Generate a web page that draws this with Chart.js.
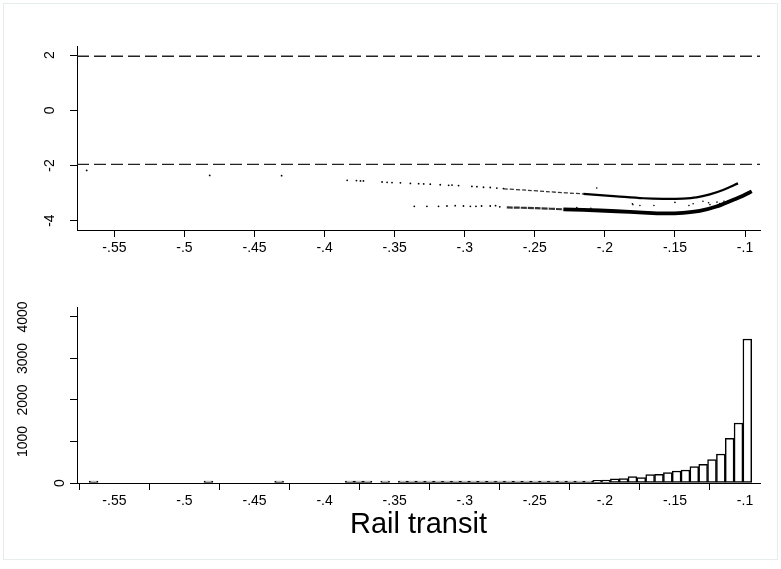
<!DOCTYPE html>
<html>
<head>
<meta charset="utf-8">
<script src="https://cdn.jsdelivr.net/npm/chart.js@4.4.1/dist/chart.umd.min.js"></script>
<style>
  html, body { margin: 0; padding: 0; background: #fff; }
  #wrap { position: relative; width: 781px; height: 569px; overflow: hidden; }
  #frame { position: absolute; left: 3px; top: 3px; width: 775px; height: 557px; border: 1px solid #e6ecec; box-sizing: border-box; }
  canvas { position: absolute; left: 0; }
  #scatterChart { top: 0; }
  #histChart { top: 290px; }
</style>
</head>
<body>
<div id="wrap">
  <div id="frame"></div>
  <canvas id="scatterChart" width="781" height="290"></canvas>
  <canvas id="histChart" width="781" height="279"></canvas>
</div>
<script>
// axis ticks
const xTicks = [-0.55, -0.5, -0.45, -0.4, -0.35, -0.3, -0.25, -0.2, -0.15, -0.1];
const xTickLabels = ['-.55', '-.5', '-.45', '-.4', '-.35', '-.3', '-.25', '-.2', '-.15', '-.1'];
const zTicks = [-4, -2, 0, 2];
const zTickLabels = ['-4', '-2', '0', '2'];
const freqTicks = [0, 1000, 2000, 3000, 4000];
const freqTickLabels = ['0', '1000', '2000', '3000', '4000'];
const xMin = -0.5767, xMax = -0.0893;
const zMin = -4.34, zMax = 2.33;
const freqMax = 4240;
const refLines = [-1.96, 1.96];

// top panel: the two bands of points (light start, dense end)
const upperLightX = [-0.272, -0.255, -0.2415, -0.2154];
const upperLightY = [-2.85, -2.90, -2.95, -3.03];
const upperDenseX = [-0.2154, -0.1916, -0.1726, -0.1584, -0.1442, -0.1346, -0.1251, -0.1157, -0.105];
const upperDenseY = [-3.03, -3.12, -3.19, -3.21, -3.20, -3.16, -3.05, -2.89, -2.65];
const lowerLightX = [-0.270, -0.2486, -0.2296];
const lowerLightY = [-3.52, -3.55, -3.59];
const lowerDenseX = [-0.2296, -0.2154, -0.1916, -0.1727, -0.1584, -0.1442, -0.1323, -0.1204, -0.1086, -0.1014, -0.0952];
const lowerDenseY = [-3.59, -3.61, -3.66, -3.71, -3.74, -3.72, -3.65, -3.49, -3.25, -3.10, -2.94];

// top panel: sparse points
const upperTailX = [-0.5698, -0.482, -0.4307, -0.3839, -0.3773, -0.3744, -0.3723, -0.359, -0.3554, -0.3519, -0.3459, -0.3388, -0.3329, -0.3293, -0.3246, -0.3175, -0.3115, -0.3091, -0.3044, -0.2949, -0.2913, -0.2866, -0.2818, -0.2771, -0.2724];
const upperTailY = [-2.18, -2.36, -2.37, -2.54, -2.55, -2.56, -2.56, -2.60, -2.61, -2.62, -2.63, -2.65, -2.66, -2.67, -2.68, -2.70, -2.72, -2.71, -2.73, -2.76, -2.77, -2.79, -2.80, -2.82, -2.84];
const lowerTailX = [-0.336, -0.327, -0.3187, -0.3127, -0.3068, -0.3009, -0.296, -0.292, -0.288, -0.2818, -0.278, -0.275];
const lowerTailY = [-3.48, -3.48, -3.48, -3.47, -3.46, -3.47, -3.48, -3.48, -3.47, -3.47, -3.46, -3.50];
const strayX = [-0.2058, -0.150, -0.137, -0.130, -0.126, -0.120, -0.115, -0.112, -0.180, -0.175, -0.165, -0.140, -0.125, -0.118, -0.210, -0.220, -0.1821, -0.1804];
const strayY = [-2.82, -3.34, -3.39, -3.30, -3.35, -3.33, -3.30, -3.28, -3.42, -3.45, -3.45, -3.45, -3.42, -3.38, -3.55, -3.53, -3.16, -3.39];

// bottom panel: histogram (non-empty bins)
const binCenters = [-0.56485, -0.48290, -0.43246, -0.38203, -0.37573, -0.36942, -0.35682,
  -0.34421, -0.33790, -0.33160, -0.32530, -0.31899, -0.31269, -0.30638, -0.30008, -0.29378,
  -0.28747, -0.28117, -0.27486, -0.26856, -0.26226, -0.25595, -0.24965, -0.24334, -0.23704,
  -0.23074, -0.22443, -0.21813, -0.21182, -0.20552, -0.19922, -0.19291, -0.18661, -0.18030,
  -0.17400, -0.16770, -0.16139, -0.15509, -0.14878, -0.14248, -0.13618, -0.12987, -0.12357,
  -0.11726, -0.11096, -0.10466, -0.09835];
const binCounts = [1, 1, 1, 2, 1, 1, 1,
  1, 2, 2, 2, 3, 3, 4, 5, 5,
  6, 7, 8, 10, 14, 15, 17, 22, 30,
  32, 42, 40, 40, 66, 68, 100, 104, 153,
  128, 201, 209, 249, 289, 313, 393, 450, 562,
  699, 1076, 1446, 3470];

const tickFont = { family: '"Liberation Sans", Arial, sans-serif', size: 14 };

function pairs(xs, ys) {
  return xs.map((x, i) => ({ x: x, y: ys[i] }));
}

// y tick labels, rotated like the original
const rotatedYLabels = {
  id: 'rotatedYLabels',
  afterDraw(chart, args, opts) {
    const scale = chart.scales.y;
    const ctx = chart.ctx;
    ctx.save();
    ctx.font = tickFont.size + 'px ' + tickFont.family;
    ctx.fillStyle = '#000';
    ctx.textAlign = 'center';
    ctx.textBaseline = 'alphabetic';
    scale.ticks.forEach((t, i) => {
      const y = scale.getPixelForValue(t.value);
      ctx.save();
      ctx.translate(opts.x[i], y);
      ctx.rotate(-Math.PI / 2);
      ctx.fillText(opts.labels[i], 0, 0);
      ctx.restore();
    });
    ctx.restore();
  }
};

const refLinesPlugin = {
  id: 'refLines',
  beforeDatasetsDraw(chart, args, opts) {
    const { ctx, chartArea, scales } = chart;
    ctx.save();
    ctx.strokeStyle = '#222';
    ctx.lineWidth = 1.4;
    ctx.setLineDash([12, 5]);
    opts.values.forEach(v => {
      const py = scales.y.getPixelForValue(v);
      ctx.beginPath();
      ctx.moveTo(chartArea.left, py);
      ctx.lineTo(chartArea.right, py);
      ctx.stroke();
    });
    ctx.restore();
  }
};

function xAxis(height, title) {
  return {
    type: 'linear',
    min: xMin,
    max: xMax,
    offset: false,
    afterBuildTicks: s => { s.ticks = xTicks.map(v => ({ value: v })); },
    afterFit: s => { s.height = height; },
    ticks: { callback: (v, i) => xTickLabels[i], font: tickFont, color: '#000', padding: 3, maxRotation: 0, autoSkip: false },
    grid: { drawOnChartArea: false, tickLength: 7, color: '#000' },
    border: { color: '#000' },
    title: title
  };
}

function yAxis(min, max, ticks) {
  return {
    type: 'linear',
    min: min,
    max: max,
    afterBuildTicks: s => { s.ticks = ticks.map(v => ({ value: v })); },
    afterFit: s => { s.width = 77; },
    ticks: { color: 'rgba(0,0,0,0)', font: tickFont },
    grid: { drawOnChartArea: false, tickLength: 7, color: '#000' },
    border: { color: '#000' }
  };
}

function band(xs, ys, width, color, dash) {
  return { data: pairs(xs, ys), showLine: true, borderColor: color, borderWidth: width, borderDash: dash || [], pointRadius: 0, tension: 0.3 };
}

function dots(xs, ys, r) {
  return { data: pairs(xs, ys), pointRadius: r, backgroundColor: '#000', borderWidth: 0 };
}

new Chart(document.getElementById('scatterChart'), {
  type: 'scatter',
  data: {
    datasets: [
      band(upperLightX, upperLightY, 1.3, '#333', [4, 2]),
      band(upperDenseX, upperDenseY, 2.2, '#000'),
      band(lowerLightX, lowerLightY, 2.2, '#333', [6, 1]),
      band(lowerDenseX, lowerDenseY, 3.8, '#000'),
      dots(upperTailX, upperTailY, 0.9),
      dots(lowerTailX, lowerTailY, 0.9),
      dots(strayX, strayY, 0.8)
    ]
  },
  options: {
    responsive: false,
    animation: false,
    devicePixelRatio: 1,
    layout: { padding: { top: 46, right: 21, left: 0, bottom: 0 } },
    scales: {
      x: xAxis(60, { display: false }),
      y: yAxis(zMin, zMax, zTicks)
    },
    plugins: {
      legend: { display: false },
      tooltip: { enabled: false },
      rotatedYLabels: { x: [53.5, 53.5, 53.5, 53.5], labels: zTickLabels },
      refLines: { values: refLines }
    }
  },
  plugins: [rotatedYLabels, refLinesPlugin]
});

new Chart(document.getElementById('histChart'), {
  type: 'bar',
  data: {
    datasets: [{
      data: pairs(binCenters, binCounts),
      backgroundColor: '#fff',
      borderColor: '#000',
      borderWidth: 1.5,
      borderSkipped: false,
      barPercentage: 1,
      categoryPercentage: 1,
      minBarLength: 2
    }]
  },
  options: {
    responsive: false,
    animation: false,
    devicePixelRatio: 1,
    layout: { padding: { top: 17, right: 21, left: 0, bottom: 0 } },
    scales: {
      x: xAxis(86, {
        display: true,
        text: 'Rail transit',
        color: '#000',
        font: { family: '"Liberation Sans", Arial, sans-serif', size: 29, lineHeight: 1 },
        padding: { top: 0, bottom: 30 }
      }),
      y: yAxis(0, freqMax, freqTicks)
    },
    plugins: {
      legend: { display: false },
      tooltip: { enabled: false },
      rotatedYLabels: { x: [64, 27, 27, 27, 27], labels: freqTickLabels }
    }
  },
  plugins: [rotatedYLabels]
});
</script>
</body>
</html>
